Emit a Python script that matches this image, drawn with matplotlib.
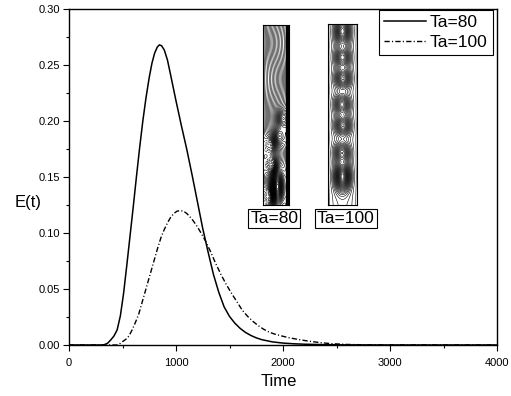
import numpy as np
import matplotlib
matplotlib.use('Agg')
import matplotlib.pyplot as plt
from matplotlib.ticker import MultipleLocator, FormatStrFormatter

plt.rcParams['font.family'] = ['Liberation Sans', 'DejaVu Sans']

# ---- data ----
t80 = [0, 300, 330, 360, 390, 420, 450, 480, 510, 540, 570, 600, 630, 660,
       690, 720, 750, 775, 800, 825, 845, 865, 890, 920, 950, 1000, 1050,
       1100, 1150, 1200, 1250, 1300, 1350, 1400, 1450, 1500, 1550, 1600,
       1650, 1700, 1750, 1800, 1900, 2000, 2100, 2200, 2400, 2600, 3000, 4000]
e80 = [0, 0, 0.0003, 0.0015, 0.0045, 0.008, 0.0135, 0.026, 0.046, 0.071,
       0.097, 0.123, 0.150, 0.176, 0.200, 0.221, 0.239, 0.2515, 0.2605,
       0.266, 0.268, 0.2672, 0.2635, 0.2545, 0.241, 0.218, 0.196, 0.175,
       0.152, 0.128, 0.104, 0.083, 0.063, 0.047, 0.034, 0.0255, 0.0195,
       0.0148, 0.0112, 0.0085, 0.0064, 0.0048, 0.0028, 0.0017, 0.0011,
       0.0007, 0.0003, 0.0001, 0, 0]

t100 = [0, 447, 480, 500, 530, 560, 590, 620, 650, 680, 710, 740, 770, 800,
        830, 860, 890, 920, 950, 980, 1010, 1040, 1070, 1100, 1130, 1160,
        1200, 1240, 1275, 1320, 1370, 1420, 1470, 1520, 1570, 1620, 1670,
        1720, 1770, 1820, 1870, 1920, 1970, 2050, 2150, 2250, 2350, 2450,
        2600, 2800, 4000]
e100 = [0, 0, 0.0015, 0.003, 0.005, 0.008, 0.0135, 0.020, 0.027, 0.037,
        0.047, 0.057, 0.067, 0.077, 0.087, 0.096, 0.103, 0.109, 0.114,
        0.1175, 0.1195, 0.120, 0.1195, 0.1175, 0.1145, 0.111, 0.1055, 0.099,
        0.093, 0.084, 0.073, 0.063, 0.054, 0.046, 0.0385, 0.031, 0.0255,
        0.021, 0.0172, 0.014, 0.0115, 0.0098, 0.0085, 0.0066, 0.0048, 0.0033,
        0.0021, 0.0012, 0.0005, 0.0001, 0]

series_labels = ['Ta=80', 'Ta=100']
xticks = [0, 1000, 2000, 3000, 4000]
yticks = [0.00, 0.05, 0.10, 0.15, 0.20, 0.25, 0.30]

# vortex cells seen in the two inset snapshots (x, y from bottom, strength)
cells80_x = [0.75, 0.28, 0.54, 0.35, 0.60, 0.25]
cells80_y = [0.48, 0.33, 0.10, 0.22, 0.38, 0.05]
cells80_s = [0.45, -0.45, 1.4, -0.7, 0.5, -0.6]
cells100_x = [0.50, 0.50, 0.52, 0.48, 0.52, 0.48, 0.50]
cells100_y = [0.96, 0.815, 0.70, 0.556, 0.44, 0.29, 0.157]
cells100_s = [1.0, 0.8, 0.85, 0.8, 0.85, 0.8, 1.3]

W, H = 511, 396
fig = plt.figure(figsize=(W / 100, H / 100), dpi=100)
ax = fig.add_axes([69 / W, 51 / H, 428 / W, 336 / H])

ax.plot(t80, e80, color='k', lw=1.1, label=series_labels[0])
ax.plot(t100, e100, color='k', lw=1.0, linestyle=(0, (3.8, 1.6, 0.8, 1.6)),
        label=series_labels[1])

ax.set_xlim(0, 4000)
ax.set_ylim(0, 0.30)
ax.set_xticks(xticks)
ax.set_yticks(yticks)
ax.xaxis.set_minor_locator(MultipleLocator(500))
ax.yaxis.set_minor_locator(MultipleLocator(0.025))
ax.yaxis.set_major_formatter(FormatStrFormatter('%.2f'))
ax.tick_params(which='major', direction='out', length=4, width=0.8,
               labelsize=8, top=False, right=False)
ax.tick_params(axis='x', which='major', pad=5)
ax.tick_params(axis='y', which='major', pad=2.5)
ax.tick_params(which='minor', direction='out', length=2.2, width=0.8,
               top=False, right=False)
for s in ax.spines.values():
    s.set_linewidth(1.0)

ax.set_xlabel('Time', fontsize=12, va='center')
ax.xaxis.set_label_coords((279 - 69) / 428, (345 - 382) / 336)
ax.set_ylabel('E(t)', fontsize=12, rotation=0, ha='center', va='center')
ax.yaxis.set_label_coords((28.5 - 69) / 428, (345 - 202) / 336)

leg = ax.legend(loc='upper right', bbox_to_anchor=(493 / W, 1 - 10 / H),
                bbox_transform=fig.transFigure, borderaxespad=0,
                fancybox=False, edgecolor='k', framealpha=1, fontsize=12.5,
                handlelength=2.4, handletextpad=0.25, labelspacing=0.25,
                borderpad=0.3)
leg.get_frame().set_linewidth(0.8)

# ---- inset snapshots (decorative contour pictures) ----
nx, ny = 70, 500
gx, gy = np.meshgrid(np.linspace(0, 1, nx), np.linspace(0, 1, ny))

f80 = gx + 0.06 * np.sin(2 * np.pi * 2.5 * gy) * np.sin(np.pi * gx)
for cx, cy, cs in zip(cells80_x, cells80_y, cells80_s):
    wy = 0.09 if abs(cs) > 1 else 0.045
    f80 = f80 + cs * np.exp(-((gx - cx) / 0.2) ** 2 - ((gy - cy) / wy) ** 2)

g100 = 0.15 + 0 * gy
for cx, cy, cs in zip(cells100_x, cells100_y, cells100_s):
    wy = 0.07 if cs > 0.9 else 0.05
    g100 = g100 + cs * np.exp(-((gx - cx) / 0.28) ** 2
                              - ((gy - cy) / wy) ** 2)
f100 = np.sin(np.pi * gx) * g100

ax80 = fig.add_axes([263 / W, 1 - 205 / H, 26 / W, 180 / H])
ax80.contour(gx, gy, f80, levels=np.arange(-1.0, 2.6, 0.05), colors='k',
             linewidths=0.4)
ax80.axvspan(0.9, 1.0, color='k')
ax100 = fig.add_axes([328 / W, 1 - 205 / H, 29 / W, 181 / H])
ax100.contour(gx, gy, f100, levels=np.arange(0.02, 1.5, 0.06), colors='k',
              linewidths=0.4)
for a in (ax80, ax100):
    a.set_xlim(0, 1)
    a.set_ylim(0, 1)
    a.set_xticks([])
    a.set_yticks([])
    for s in a.spines.values():
        s.set_linewidth(0.8)

box = dict(boxstyle='square,pad=0.12', fc='white', ec='k', lw=0.8)
fig.text(274.4 / W, 1 - 218.9 / H, 'Ta=80', ha='center', va='center',
         fontsize=12.5, bbox=box)
fig.text(345.9 / W, 1 - 218.9 / H, 'Ta=100', ha='center', va='center',
         fontsize=12.5, bbox=box)

fig.savefig('out.png', dpi=100)
